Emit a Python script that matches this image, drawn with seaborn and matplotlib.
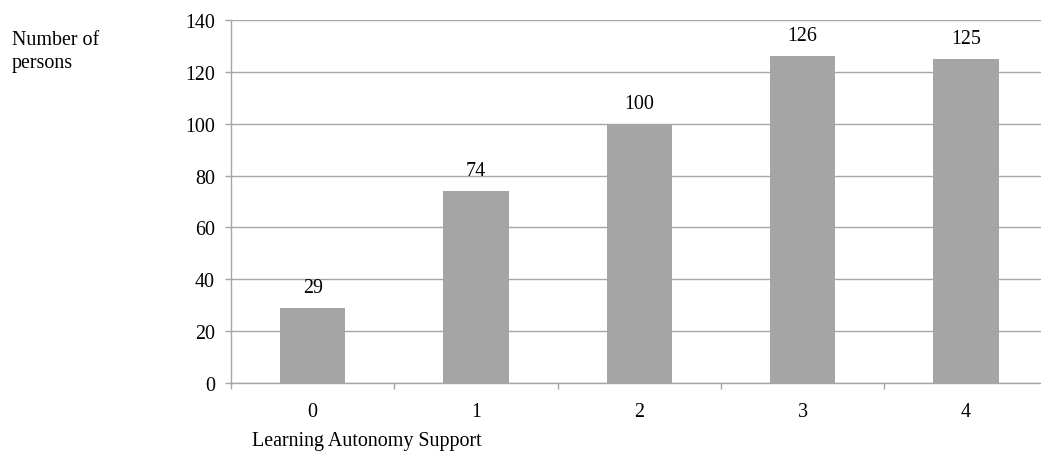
import matplotlib
matplotlib.use("Agg")
import matplotlib.pyplot as plt
import seaborn as sns
import pandas as pd
import numpy as np

categories = ["0", "1", "2", "3", "4"]
counts = [29, 74, 100, 126, 125]
y_ticks = [0, 20, 40, 60, 80, 100, 120, 140]

sns.set_theme(style="white")
plt.rcParams["font.family"] = ["Liberation Serif", "DejaVu Serif"]

FS = 14.4

fig = plt.figure(figsize=(10.41, 4.52), dpi=100)
ax = fig.add_axes([231 / 1041, 68 / 452, 816.5 / 1041, 363 / 452])

df = pd.DataFrame({"level": categories, "persons": counts})
sns.barplot(data=df, x="level", y="persons", color="#a5a5a5", saturation=1,
            width=0.4, ax=ax, zorder=3, linewidth=0)

grid_col = "#a6a6a6"
ax.set_ylim(0, 140)
ax.set_xlim(-0.5, len(categories) - 0.5)
ax.set_yticks(y_ticks)
ax.set_yticklabels([str(t) for t in y_ticks])
ax.yaxis.grid(True, color=grid_col, linewidth=1.0, zorder=0)
ax.xaxis.grid(False)

for side in ["top", "right"]:
    ax.spines[side].set_visible(False)
for side in ["left", "bottom"]:
    ax.spines[side].set_color(grid_col)
    ax.spines[side].set_linewidth(1.0)

ax.tick_params(axis="y", which="major", left=True, length=4.5, width=1,
               color=grid_col, pad=7, labelsize=FS, labelcolor="black")
ax.tick_params(axis="x", which="major", bottom=False, length=0, pad=14,
               labelsize=FS, labelcolor="black")
ax.set_xticks(np.arange(-0.5, len(categories) - 0.5, 1.0), minor=True)
ax.tick_params(axis="x", which="minor", bottom=True, length=4.5, width=1,
               color=grid_col)

ax.set_xlabel("")
ax.set_ylabel("")

for cont in ax.containers:
    ax.bar_label(cont, labels=[str(v) for v in counts], padding=8,
                 fontsize=FS, color="black")

fig.text(12 / 1041, 1 - 31 / 452, "Number of\npersons", ha="left", va="top",
         fontsize=FS, color="black", linespacing=1.3)
fig.text(252 / 1041, 6 / 452, "Learning Autonomy Support", ha="left",
         va="baseline", fontsize=FS, color="black")

fig.savefig("out.png", dpi=100)
